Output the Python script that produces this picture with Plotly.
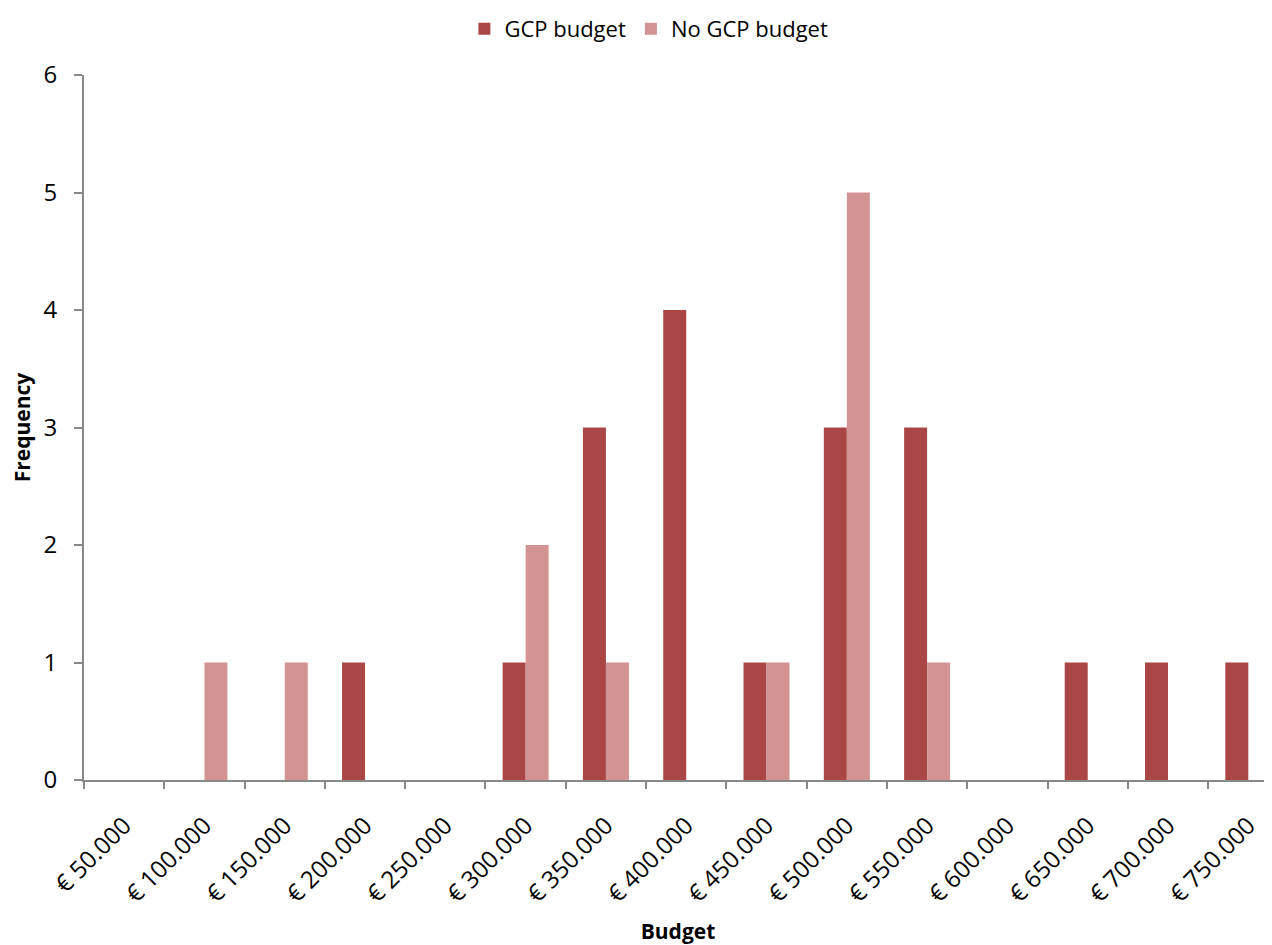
import plotly.graph_objects as go

categories = ["€ 50.000", "€ 100.000", "€ 150.000", "€ 200.000", "€ 250.000",
              "€ 300.000", "€ 350.000", "€ 400.000", "€ 450.000", "€ 500.000",
              "€ 550.000", "€ 600.000", "€ 650.000", "€ 700.000", "€ 750.000"]
gcp_budget = [0, 0, 0, 1, 0, 1, 3, 4, 1, 3, 3, 0, 1, 1, 1]
no_gcp_budget = [0, 1, 1, 0, 0, 2, 1, 0, 1, 5, 1, 0, 0, 0, 0]

font_family = "Open Sans, Noto Sans, sans-serif"

fig = go.Figure()
fig.add_trace(go.Bar(name="GCP budget", x=categories, y=gcp_budget,
                     marker=dict(color="#AA4646", line=dict(width=0))))
fig.add_trace(go.Bar(name="No GCP budget", x=categories, y=no_gcp_budget,
                     marker=dict(color="#D39393", line=dict(width=0))))

fig.update_layout(
    width=1264, height=937,
    paper_bgcolor="white", plot_bgcolor="white",
    barmode="group", bargap=0.427, bargroupgap=0,
    margin=dict(l=76, r=0, t=67, b=165, autoexpand=False),
    font=dict(family=font_family, size=22, color="black"),
    legend=dict(orientation="h", x=0.4755, xanchor="center", y=1.0, yref="container",
                yanchor="top", font=dict(size=22), itemwidth=30, traceorder="normal",
                tracegroupgap=0),
    showlegend=True,
)
fig.update_xaxes(
    type="category", range=[-0.5, 14.295],
    showline=True, linecolor="#888888", linewidth=2,
    ticks="outside", tickson="boundaries", ticklen=7, tickcolor="#888888", tickwidth=2,
    tickangle=-45, tickfont=dict(size=24), ticklabelstandoff=20,
    showgrid=False, zeroline=False,
    title=dict(text="<b>Budget</b>", font=dict(size=21), standoff=30),
)
fig.update_yaxes(
    range=[0, 6], dtick=1, tick0=0,
    showline=True, linecolor="#888888", linewidth=2,
    ticks="outside", ticklen=8, tickcolor="#888888", tickwidth=2,
    tickfont=dict(size=24), ticklabelstandoff=12,
    showgrid=False, zeroline=False,
    title=dict(text="<b>Frequency</b>", font=dict(size=21), standoff=24),
)

fig.write_html("out.html")
